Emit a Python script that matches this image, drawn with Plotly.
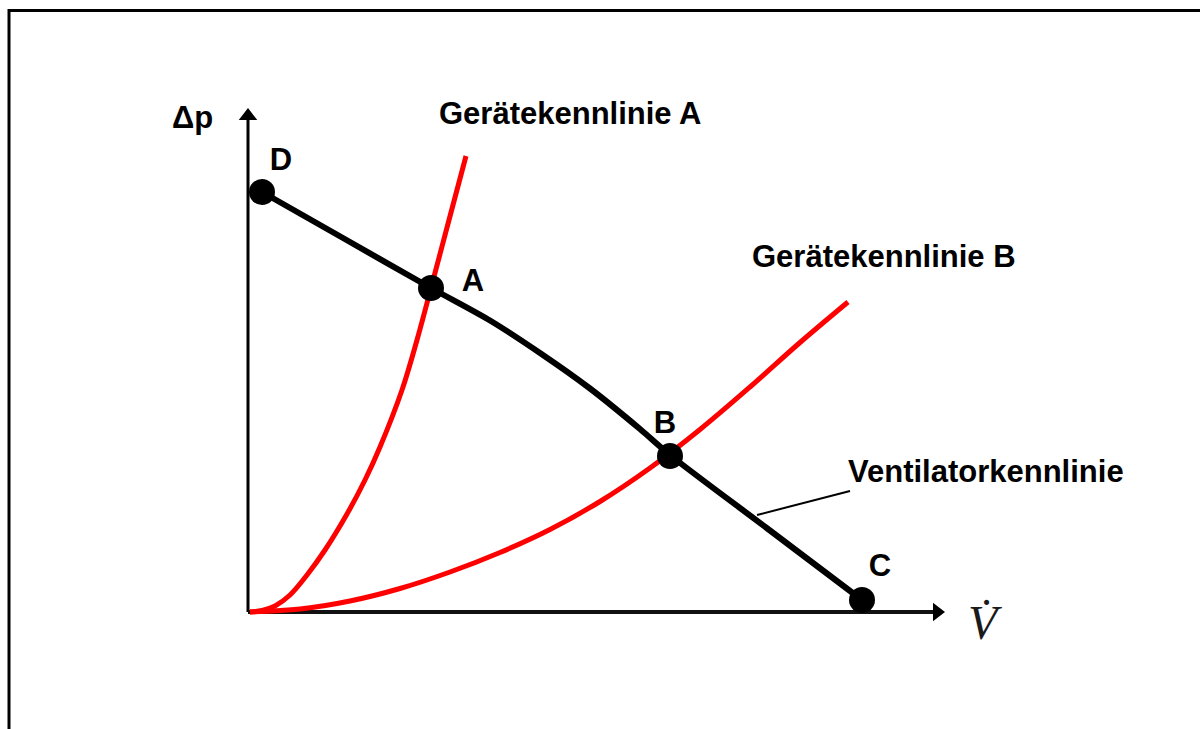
import plotly.graph_objects as go

# Ventilatorkennlinie (fan curve)
fan_x = [0.13, 0.975, 1.82, 2.41, 2.91, 3.41, 3.91, 4.21, 5.17, 6.13]
fan_y = [4.20, 3.72, 3.24, 2.915, 2.59, 2.235, 1.83, 1.57, 0.845, 0.12]

# Gerätekennlinie A
devA_x = [0.01, 0.13, 0.26, 0.41, 0.58, 0.76, 0.98, 1.16, 1.31, 1.53, 1.68, 1.82, 2.00, 2.17]
devA_y = [0.00, 0.015, 0.06, 0.17, 0.37, 0.62, 0.98, 1.32, 1.65, 2.22, 2.72, 3.24, 3.92, 4.56]

# Gerätekennlinie B
devB_x = [0.01, 0.51, 1.01, 1.51, 2.01, 2.51, 3.01, 3.51, 4.01, 4.51, 5.01, 5.51, 5.99]
devB_y = [0.00, 0.03, 0.11, 0.235, 0.40, 0.595, 0.825, 1.105, 1.44, 1.825, 2.25, 2.695, 3.10]

# Operating points
pt_names = ["D", "A", "B", "C"]
pt_x = [0.13, 1.82, 4.21, 6.13]
pt_y = [4.20, 3.24, 1.56, 0.12]
pt_lbl_x = [0.32, 2.24, 4.16, 6.31]
pt_lbl_y = [4.50, 3.29, 1.87, 0.44]

FONT = "Arial, Liberation Sans, sans-serif"
FS = 31

fig = go.Figure()

# axes
fig.add_trace(go.Scatter(x=[-0.01, -0.01], y=[0, 4.92], mode="lines",
                         line=dict(color="black", width=3), hoverinfo="skip"))
fig.add_trace(go.Scatter(x=[-0.01, 6.84], y=[0, 0], mode="lines",
                         line=dict(color="#111", width=4), hoverinfo="skip"))
fig.add_trace(go.Scatter(x=[-0.01], y=[4.96], mode="markers",
                         marker=dict(symbol="triangle-up", size=16, color="black"), hoverinfo="skip"))
fig.add_trace(go.Scatter(x=[6.88], y=[0], mode="markers",
                         marker=dict(symbol="triangle-right", size=16, color="black"), hoverinfo="skip"))

# device curves
fig.add_trace(go.Scatter(x=devA_x, y=devA_y, mode="lines", line_shape="spline",
                         line=dict(color="#ff0000", width=5, smoothing=1.0)))
fig.add_trace(go.Scatter(x=devB_x, y=devB_y, mode="lines", line_shape="spline",
                         line=dict(color="#ff0000", width=5, smoothing=1.0)))
# fan curve
fig.add_trace(go.Scatter(x=fan_x, y=fan_y, mode="lines", line_shape="spline",
                         line=dict(color="black", width=6, smoothing=0.8)))
# points
fig.add_trace(go.Scatter(x=pt_x, y=pt_y, mode="markers",
                         marker=dict(size=26, color="black")))
fig.add_trace(go.Scatter(x=pt_lbl_x, y=pt_lbl_y, mode="text", text=pt_names,
                         textfont=dict(family=FONT, size=FS, color="black", weight="bold")))

# leader line
fig.add_trace(go.Scatter(x=[5.08, 6.01], y=[0.97, 1.21], mode="lines",
                         line=dict(color="black", width=2)))

labels = [
    ("Δp", -0.57, 4.95, "center"),
    ("Gerätekennlinie A", 1.88, 4.99, "left"),
    ("Gerätekennlinie B", 5.01, 3.56, "left"),
    ("Ventilatorkennlinie", 5.97, 1.41, "left"),
]
for t, x, y, xa in labels:
    fig.add_annotation(x=x, y=y, text=t, showarrow=False, xanchor=xa, yanchor="middle",
                       font=dict(family=FONT, size=FS, color="black", weight="bold"))

fig.add_annotation(x=7.36, y=-0.10, text="<i>V\u0307</i>", showarrow=False,
                   xanchor="center", yanchor="middle",
                   font=dict(family="Liberation Serif, Times New Roman, serif", size=48, color="#1a1a1a"))

# frame (top and left edges)
fig.add_shape(type="path", xref="paper", yref="paper",
              path="M 0.0075,0 L 0.0075,0.9855 L 1,0.9855",
              line=dict(color="black", width=3))

fig.update_layout(
    width=1200, height=729,
    margin=dict(l=0, r=0, t=0, b=0),
    paper_bgcolor="white", plot_bgcolor="white",
    showlegend=False,
    xaxis=dict(range=[-2.49, 9.51], visible=False, fixedrange=True),
    yaxis=dict(range=[-1.17, 6.12], visible=False, fixedrange=True),
)

fig.write_html("out.html", config={"displayModeBar": False},
               post_script="document.body.style.margin='0';document.body.style.overflow='hidden';")
